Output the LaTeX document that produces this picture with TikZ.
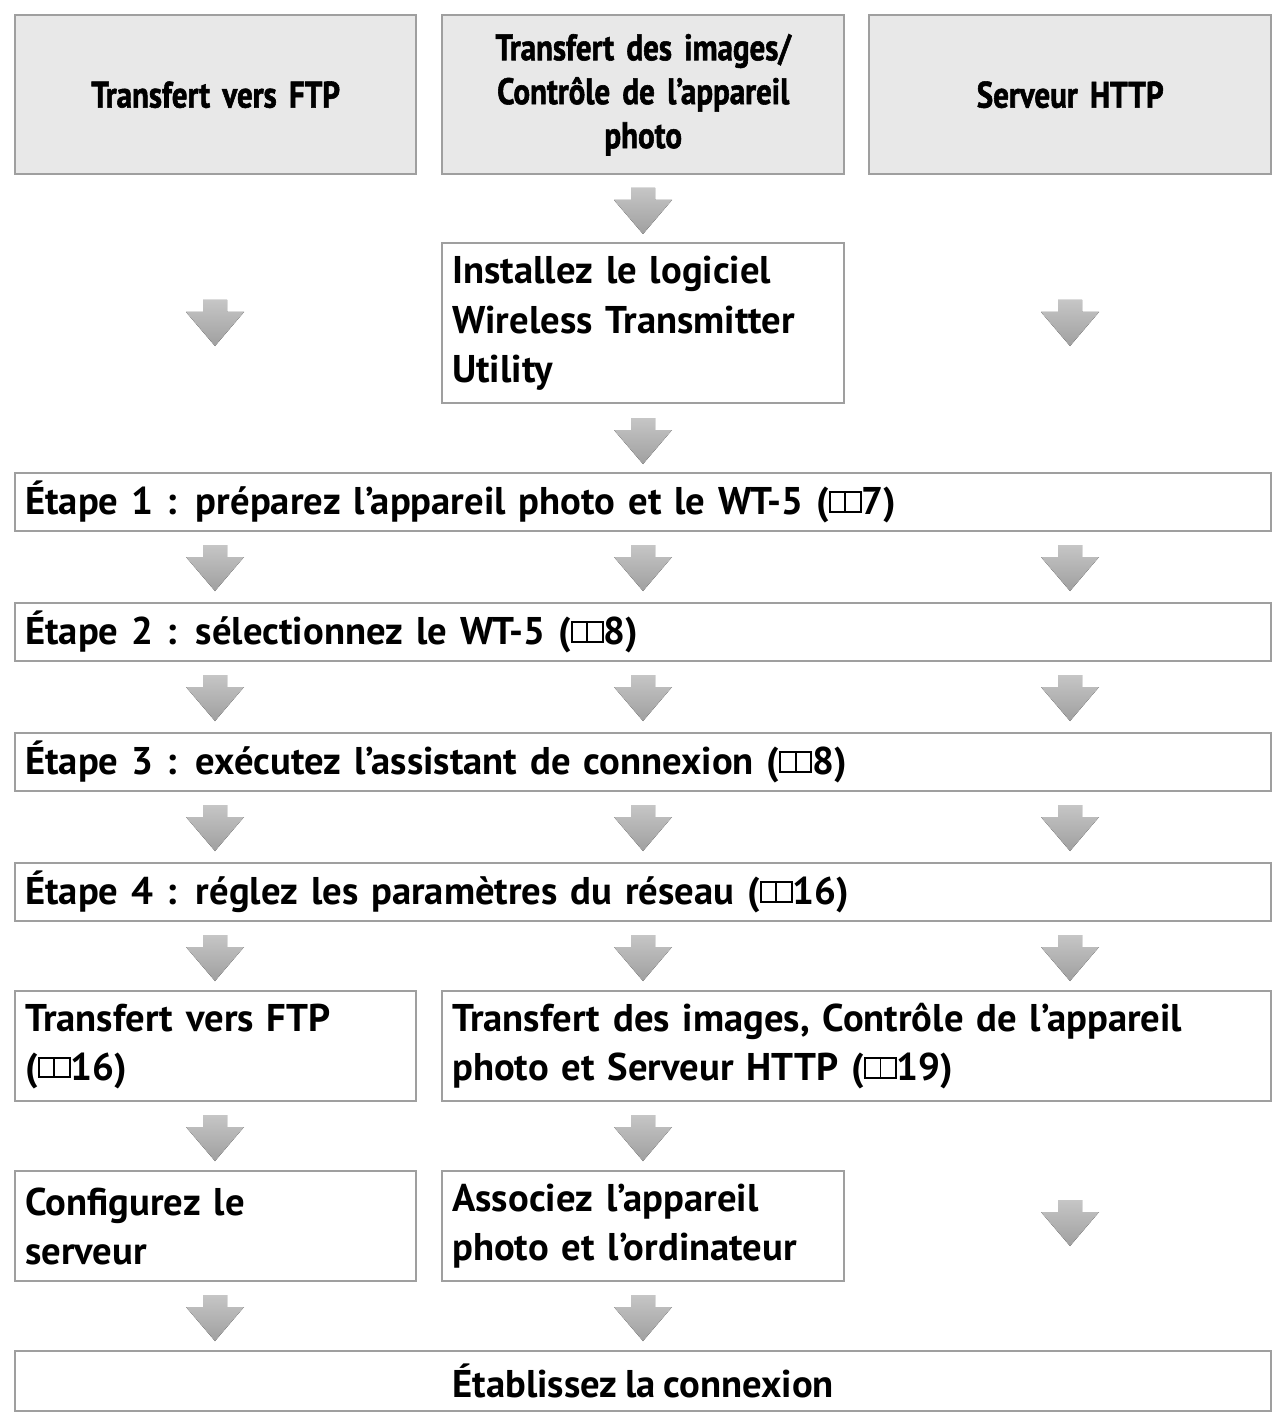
\documentclass[tikz,border=0pt]{standalone}
\usepackage{fontspec}
\setmainfont[WordSpace=0.8]{PT Sans}
\newfontfamily\headfont[FakeStretch=0.84,FakeBold=1.5]{PT Sans}
\usetikzlibrary{positioning}
\newcommand\bk{\tikz[baseline=0pt,line width=0.05em]{\draw (0,0.08em) rectangle (0.4em,0.58em); \draw (0.4em,0.08em) rectangle (0.8em,0.58em);}}
\tikzset{
	box/.style={draw=gray!75, line width=1.4pt, inner sep=0pt, anchor=north west},
	headbox/.style={box, fill=gray!18, font=\headfont\bfseries\fontsize{21}{25}\selectfont, align=center},
	stepbox/.style={box, inner xsep=0.2cm, font=\bfseries\fontsize{22}{28}\selectfont, align=left},
	downarrow/.pic={\fill[top color=gray!45, bottom color=gray!75] (-12,0) -- (12,0) -- (12,12) -- (29,12) -- (0,46) -- (-29,12) -- (-12,12) -- cycle;}
}
\begin{document}
\begin{tikzpicture}[x=0.02cm, y=-0.02cm]
	\useasboundingbox (0,0) rectangle (1276,1412);
	%headers
	\node[headbox, text width=380*0.02cm, minimum width=401*0.02cm, minimum height=159*0.02cm] (h1) at (14,14) {Transfert vers FTP};
	\node[headbox, text width=380*0.02cm, minimum width=402*0.02cm, minimum height=159*0.02cm] (h2) at (441,14) {Transfert des images/\\Contrôle de l’appareil\\photo};
	\node[headbox, text width=380*0.02cm, minimum width=402*0.02cm, minimum height=159*0.02cm] (h3) at (868,14) {Serveur HTTP};
	%software
	\node[stepbox, text width=382*0.02cm, minimum width=402*0.02cm, minimum height=160*0.02cm] (inst) at (441,242) {Installez le logiciel\\Wireless Transmitter\\Utility};
	%steps
	\node[stepbox, text width=1236*0.02cm, minimum width=1256*0.02cm, minimum height=58*0.02cm] (s1) at (14,472) {Étape 1 : préparez l’appareil photo et le WT-5 (\bk7)};
	\node[stepbox, text width=1236*0.02cm, minimum width=1256*0.02cm, minimum height=58*0.02cm] (s2) at (14,602) {Étape 2 : sélectionnez le WT-5 (\bk8)};
	\node[stepbox, text width=1236*0.02cm, minimum width=1256*0.02cm, minimum height=58*0.02cm] (s3) at (14,732) {Étape 3 : exécutez l’assistant de connexion (\bk8)};
	\node[stepbox, text width=1236*0.02cm, minimum width=1256*0.02cm, minimum height=58*0.02cm] (s4) at (14,862) {Étape 4 : réglez les paramètres du réseau (\bk16)};
	%branches
	\node[stepbox, text width=381*0.02cm, minimum width=401*0.02cm, minimum height=110*0.02cm] (ftp) at (14,990) {Transfert vers FTP\\(\bk16)};
	\node[stepbox, text width=809*0.02cm, minimum width=829*0.02cm, minimum height=110*0.02cm] (img) at (441,990) {Transfert des images, Contrôle de l’appareil\\photo et Serveur HTTP (\bk19)};
	\node[stepbox, text width=381*0.02cm, minimum width=401*0.02cm, minimum height=110*0.02cm] (conf) at (14,1170) {Configurez le\\serveur};
	\node[stepbox, text width=382*0.02cm, minimum width=402*0.02cm, minimum height=110*0.02cm] (assoc) at (441,1170) {Associez l’appareil\\photo et l’ordinateur};
	\node[box, font=\bfseries\fontsize{22}{28}\selectfont, minimum width=1256*0.02cm, minimum height=60*0.02cm] (end) at (14,1350) {Établissez la connexion};
	%arrows
	\pic at (643,188) {downarrow};
	\pic at (215,300) {downarrow};
	\pic at (1070,300) {downarrow};
	\pic at (643,418) {downarrow};
	\foreach \y in {545,675,805,935}
		\foreach \x in {215,643,1070}
			\pic at (\x,\y) {downarrow};
	\pic at (215,1115) {downarrow};
	\pic at (643,1115) {downarrow};
	\pic at (1070,1200) {downarrow};
	\pic at (215,1295) {downarrow};
	\pic at (643,1295) {downarrow};
\end{tikzpicture}
\end{document}
